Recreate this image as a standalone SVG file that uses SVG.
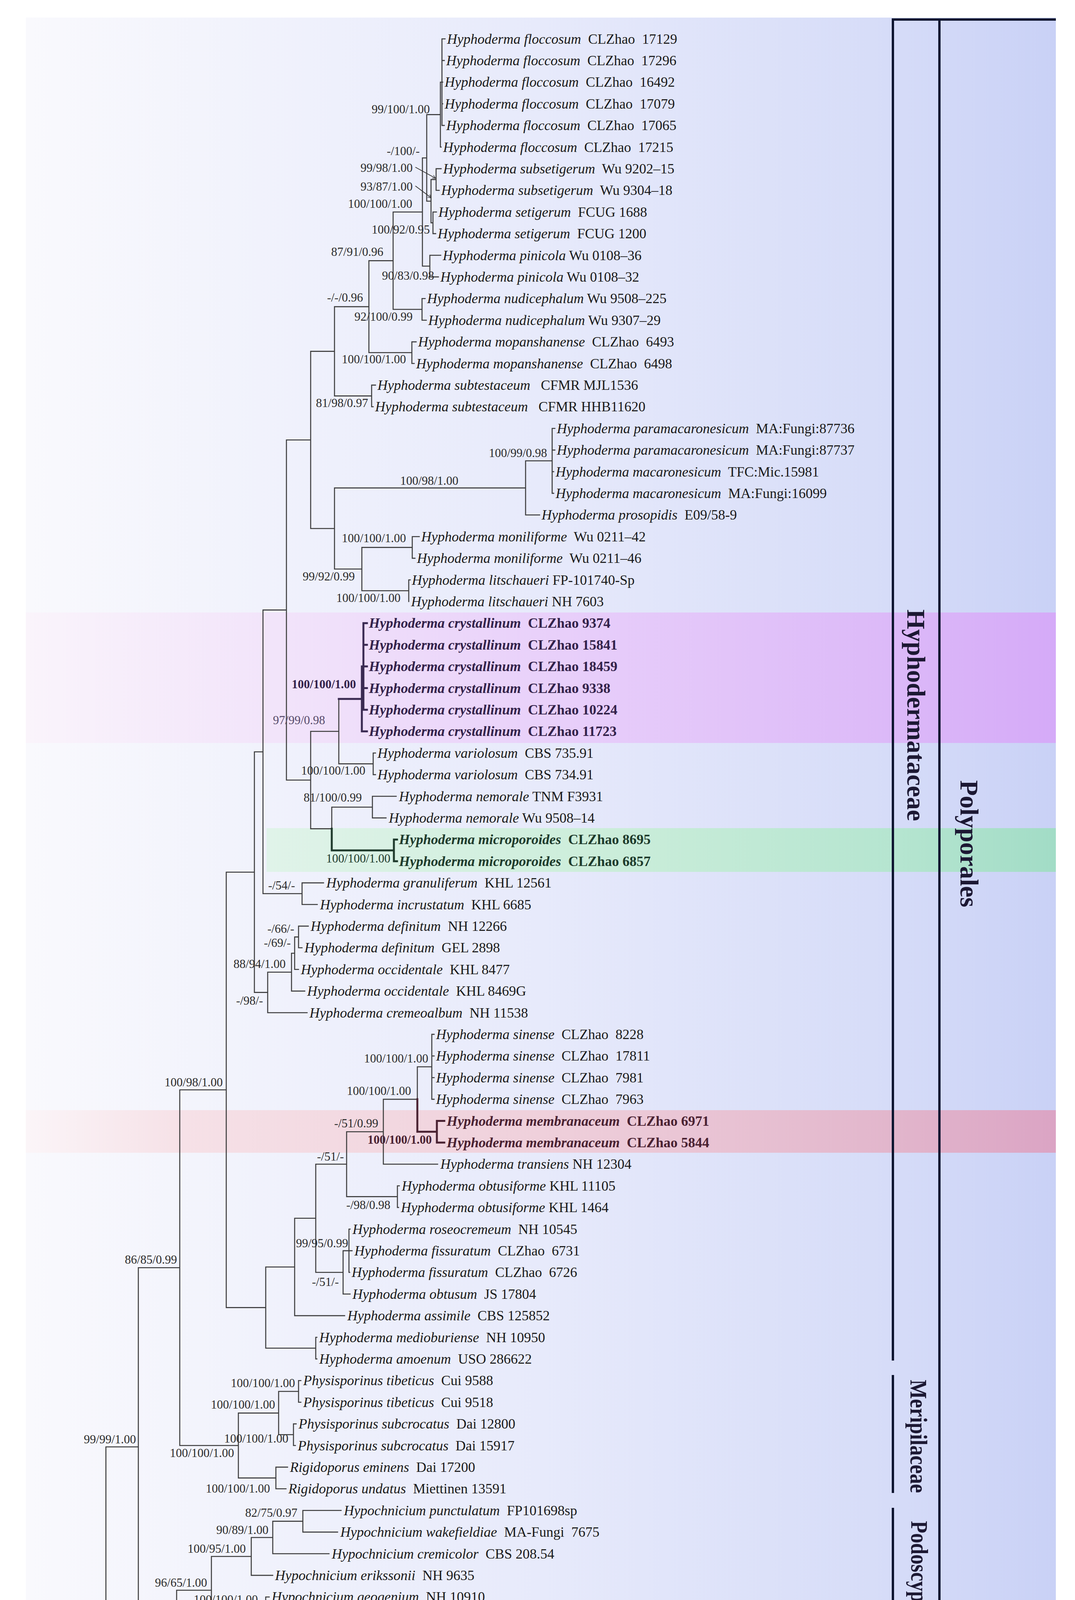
<svg xmlns="http://www.w3.org/2000/svg" width="2751" height="4557" viewBox="0 0 2751 4557">
<defs>
<linearGradient id="bg" gradientUnits="userSpaceOnUse" x1="66" y1="0" x2="2702" y2="0">
<stop offset="0" stop-color="#f9f9fd"/><stop offset="0.5" stop-color="#e7eafb"/><stop offset="0.84" stop-color="#d6dcf8"/><stop offset="1" stop-color="#c9d1f6"/>
</linearGradient>
<linearGradient id="gp" gradientUnits="userSpaceOnUse" x1="66" y1="0" x2="2702" y2="0">
<stop offset="0" stop-color="#faf4fb"/><stop offset="0.3" stop-color="#f0e0fa"/><stop offset="0.55" stop-color="#e7cdfa"/><stop offset="0.84" stop-color="#dcb9f8"/><stop offset="1" stop-color="#d5aaf8"/>
</linearGradient>
<linearGradient id="gg" gradientUnits="userSpaceOnUse" x1="682" y1="0" x2="2702" y2="0">
<stop offset="0" stop-color="#e0f3e9"/><stop offset="0.4" stop-color="#cdeedb"/><stop offset="0.8" stop-color="#b5e5d0"/><stop offset="1" stop-color="#a2dcc6"/>
</linearGradient>
<linearGradient id="gm" gradientUnits="userSpaceOnUse" x1="66" y1="0" x2="2702" y2="0">
<stop offset="0" stop-color="#fbf5f8"/><stop offset="0.15" stop-color="#f6e1e7"/><stop offset="0.5" stop-color="#efd0db"/><stop offset="0.84" stop-color="#e2b6cc"/><stop offset="1" stop-color="#dba4c4"/>
</linearGradient>
<marker id="arr" viewBox="0 0 10 10" refX="9" refY="5" markerWidth="9" markerHeight="9" markerUnits="userSpaceOnUse" orient="auto">
<path d="M0 0L10 5L0 10" fill="none" stroke="#333" stroke-width="1.5"/>
</marker>
<style>
.t{font-family:"Liberation Serif","Times New Roman",serif;font-size:36px;fill:#1a1a1a}
.i{font-style:italic}
.bp{font-weight:bold;fill:#33224a}
.bg{font-weight:bold;fill:#1e3b2c}
.bm{font-weight:bold;fill:#4a2232}
.s{font-family:"Liberation Serif","Times New Roman",serif;font-size:31px;fill:#2b2b2b;text-anchor:end}
.clade{font-family:"Liberation Serif","Times New Roman",serif;font-weight:bold;font-size:65px;fill:#1c1833;text-anchor:middle}
.ln{fill:none;stroke:#3c3c3c;stroke-width:2.6;stroke-linecap:square}
.bar{fill:none;stroke:#0e1530;stroke-width:6}
</style>
</defs>
<rect width="2751" height="4557" fill="#ffffff"/>
<rect x="66" y="45" width="2636" height="4462" fill="url(#bg)"/>
<g id="bands">
<rect x="66" y="1568" width="2636" height="334" fill="url(#gp)"/>
<rect x="682" y="2120" width="2020" height="112" fill="url(#gg)"/>
<rect x="66" y="2842" width="2636" height="109" fill="url(#gm)"/>
</g>
<g id="connectors">
<path class="ln" d="M1131 99.5V321.1 M1131 99.5H1139 M1131 154.9H1137 M1131 210.3H1133 M1131 265.7H1133 M1131 321.1H1137 M1127 210.3H1131 M1127 210.3V376.5 M1127 376.5H1129 M1092 293.4H1127
M1116 431.9V487.3 M1116 431.9H1129 M1116 487.3H1124 M1103 459.6H1116
M1108 542.7V598.1 M1108 542.7H1117 M1108 598.1H1115 M1103 570.4H1108
M1103 459.6V570.4 M1092 515H1103 M1092 293.4V515 M1081 404.2H1092
M1100 653.5V708.9 M1100 653.5H1128 M1100 708.9H1122 M1081 681.2H1100
M1081 404.2V681.2 M1006 542.7H1081
M1080 764.3V819.7 M1080 764.3H1088 M1080 819.7H1091 M1006 792H1080
M1006 542.7V792 M944 667.4H1006
M1054 875.1V930.5 M1054 875.1H1065 M1054 930.5H1060 M944 902.8H1054
M944 667.4V902.8 M856 785.1H944
M951 985.9V1041.3 M951 985.9H961 M951 1041.3H955 M856 1013.6H951
M856 785.1V1013.6 M795 899.4H856
M1413 1096.7V1262.9 M1413 1096.7H1420 M1413 1152.1H1420 M1413 1207.5H1417 M1413 1262.9H1417 M1345 1179.8H1413
M1345 1318.3H1381 M1345 1179.8V1318.3 M856 1249.1H1345
M1055 1373.7V1429.1 M1055 1373.7H1073 M1055 1429.1H1062 M926 1401.4H1055
M1046 1484.5V1539.9 M1046 1484.5H1050 M926 1512.2H1046
M926 1401.4V1512.2 M856 1456.8H926
M856 1249.1V1456.8 M795 1353H856
M795 899.4V1353 M733 1126.2H795
M955 1927.7V1983.1 M955 1927.7H961 M955 1983.1H961 M867 1955.4H955
M867 1789.2V1955.4 M795 1872.3H867
M953 2038.5V2093.9 M953 2038.5H1014 M953 2093.9H988 M849 2066.2H953
M849 2066.2V2121.6 M795 2121.6H849
M795 1872.3V2121.6 M733 1997H795
M733 1126.2V1997 M673 1561.6H733
M773 2260.1V2315.5 M773 2260.1H828 M773 2315.5H812 M673 2287.8H773
M673 1561.6V2287.8 M651 1924.7H673
M764 2370.9V2426.3 M764 2370.9H789 M764 2426.3H773 M754 2398.6H764
M754 2398.6V2481.7 M754 2481.7H764 M746 2440.2H754
M746 2440.2V2537.1 M746 2537.1H780 M685 2488.7H746
M685 2488.7V2592.5 M685 2592.5H786 M651 2540.6H685
M651 1924.7V2540.6 M579 2232.7H651
M1105 2647.9V2814.1 M1105 2647.9H1111 M1105 2703.3H1111 M1105 2758.7H1111 M1105 2814.1H1111 M1068 2731H1105
M1068 2731V2814.1 M981 2814.1H1068
M981 2980.3H1120 M981 2814.1V2980.3 M887 2897.2H981
M1017 3035.7V3091.1 M1017 3035.7H1022 M1017 3091.1H1020 M887 3063.4H1017
M887 2897.2V3063.4 M808 2980.3H887
M893 3146.5V3257.3 M893 3146.5H896 M893 3201.9H901 M893 3257.3H895 M878 3201.9H893
M878 3312.7H896 M878 3201.9V3312.7 M808 3257.3H878
M808 2980.3V3257.3 M754 3118.8H808
M754 3368.1H882 M754 3118.8V3368.1 M680 3243.5H754
M808 3423.5V3478.9 M808 3423.5H811 M808 3478.9H811 M680 3451.2H808
M680 3243.5V3451.2 M579 3347.4H680
M579 2232.7V3347.4 M460 2790H579
M764 3534.3V3589.7 M764 3534.3H770 M764 3589.7H770 M713 3562H764
M751 3645.1V3700.5 M751 3645.1H758 M751 3700.5H756 M713 3672.8H751
M713 3562V3672.8 M610 3617.4H713
M706 3755.9V3811.3 M706 3755.9H736 M706 3811.3H732 M610 3783.6H706
M610 3617.4V3783.6 M460 3700.5H610
M460 2790V3700.5 M354 3245.3H460
M775 3866.7V3922.1 M775 3866.7H873 M775 3922.1H864 M698 3894.4H775
M698 3894.4V3977.5 M698 3977.5H842 M643 3936H698
M643 3936V4032.9 M643 4032.9H698 M541 3984.5H643
M680 4088.3V4143.7 M680 4088.3H689 M680 4143.7H688 M599 4116H680
M599 4116V4199.1 M599 4199.1H724 M541 4157.5H599
M541 3984.5V4157.5 M452 4071H541
M452 4071V4254.5 M452 4254.5H561 M354 4162.8H452
M354 3245.3V4162.8 M271 3704H354
M349 4309.9V4365.3 M349 4309.9H480 M349 4365.3H482 M271 4337.6H349
M271 3704V4337.6"/>
<path class="ln" style="stroke:#3a2a52;stroke-width:5" d="M930 1595.3V1816.9 M930 1595.3H939 M930 1650.7H939 M930 1706.1H939 M930 1761.5H939 M930 1816.9H939 M926 1706.1H930 M926 1706.1V1872.3 M926 1872.3H939 M867 1789.2H926"/>
<path class="ln" style="stroke:#1f3a2c;stroke-width:5" d="M1008 2149.3V2204.7 M1008 2149.3H1016 M1008 2204.7H1016 M849 2177H1008 M849 2121.6V2177"/>
<path class="ln" style="stroke:#4a2232;stroke-width:5" d="M1118 2869.5V2924.9 M1118 2869.5H1137 M1118 2924.9H1137 M1068 2897.2H1118 M1068 2814.1V2897.2"/>
<path fill="none" stroke="#333" stroke-width="1.8" marker-end="url(#arr)" d="M1063 428L1114 456"/>
<path fill="none" stroke="#333" stroke-width="1.8" marker-end="url(#arr)" d="M1063 476L1103 506"/>
<path fill="none" stroke="#333" stroke-width="2.6" d="M359 4436H462 M359 4429V4443 M462 4429V4443"/>
</g>
<g id="support">
<text class="s" x="1100" y="290">99/100/1.00</text>
<text class="s" x="1074" y="397">-/100/-</text>
<text class="s" x="1056" y="440">99/98/1.00</text>
<text class="s" x="1056" y="488">93/87/1.00</text>
<text class="s" x="1055" y="532">100/100/1.00</text>
<text class="s" x="1100" y="598">100/92/0.95</text>
<text class="s" x="981" y="655">87/91/0.96</text>
<text class="s" x="1111" y="716">90/83/0.98</text>
<text class="s" x="929" y="772">-/-/0.96</text>
<text class="s" x="1056" y="821">92/100/0.99</text>
<text class="s" x="1039" y="930">100/100/1.00</text>
<text class="s" x="942" y="1042">81/98/0.97</text>
<text class="s" x="1400" y="1170">100/99/0.98</text>
<text class="s" x="1173" y="1241">100/98/1.00</text>
<text class="s" x="1039" y="1388">100/100/1.00</text>
<text class="s" x="908" y="1486">99/92/0.99</text>
<text class="s" x="1025" y="1541">100/100/1.00</text>
<text class="s" x="911" y="1762" style="font-weight:bold;fill:#33224a">100/100/1.00</text>
<text class="s" x="832" y="1854" style="fill:#564a6a">97/99/0.98</text>
<text class="s" x="935" y="1983">100/100/1.00</text>
<text class="s" x="926" y="2052">81/100/0.99</text>
<text class="s" x="999" y="2208" style="fill:#1e3b2c">100/100/1.00</text>
<text class="s" x="755" y="2277">-/54/-</text>
<text class="s" x="753" y="2388">-/66/-</text>
<text class="s" x="744" y="2424">-/69/-</text>
<text class="s" x="731" y="2478">88/94/1.00</text>
<text class="s" x="673" y="2572">-/98/-</text>
<text class="s" x="1096" y="2720">100/100/1.00</text>
<text class="s" x="570" y="2781">100/98/1.00</text>
<text class="s" x="1052" y="2803">100/100/1.00</text>
<text class="s" x="968" y="2886">-/51/0.99</text>
<text class="s" x="1105" y="2928" style="font-weight:bold;fill:#4a2232">100/100/1.00</text>
<text class="s" x="880" y="2971">-/51/-</text>
<text class="s" x="999" y="3095">-/98/0.98</text>
<text class="s" x="891" y="3193">99/95/0.99</text>
<text class="s" x="453" y="3235">86/85/0.99</text>
<text class="s" x="867" y="3292">-/51/-</text>
<text class="s" x="755" y="3551">100/100/1.00</text>
<text class="s" x="704" y="3606">100/100/1.00</text>
<text class="s" x="738" y="3693">100/100/1.00</text>
<text class="s" x="348" y="3695">99/99/1.00</text>
<text class="s" x="599" y="3730">100/100/1.00</text>
<text class="s" x="691" y="3821">100/100/1.00</text>
<text class="s" x="761" y="3883">82/75/0.97</text>
<text class="s" x="687" y="3927">90/89/1.00</text>
<text class="s" x="629" y="3975">100/95/1.00</text>
<text class="s" x="530" y="4062">96/65/1.00</text>
<text class="s" x="660" y="4105">100/100/1.00</text>
<text class="s" x="596" y="4190">77/77/0.95</text>
<text class="s" x="445" y="4197">97/84/1.00</text>
<text x="415" y="4476" style="font-family:'Liberation Serif','Times New Roman',serif;font-size:32px;fill:#2b2b2b;text-anchor:middle">50</text>
</g>
<g id="taxa">
<g id="t01"><text class="t" x="1144" y="112"><tspan class="i">Hyphoderma floccosum</tspan>&#160; CLZhao&#160; 17129</text></g>
<g id="t02"><text class="t" x="1142" y="167"><tspan class="i">Hyphoderma floccosum</tspan>&#160; CLZhao&#160; 17296</text></g>
<g id="t03"><text class="t" x="1138" y="222"><tspan class="i">Hyphoderma floccosum</tspan>&#160; CLZhao&#160; 16492</text></g>
<g id="t04"><text class="t" x="1138" y="278"><tspan class="i">Hyphoderma floccosum</tspan>&#160; CLZhao&#160; 17079</text></g>
<g id="t05"><text class="t" x="1142" y="333"><tspan class="i">Hyphoderma floccosum</tspan>&#160; CLZhao&#160; 17065</text></g>
<g id="t06"><text class="t" x="1134" y="389"><tspan class="i">Hyphoderma floccosum</tspan>&#160; CLZhao&#160; 17215</text></g>
<g id="t07"><text class="t" x="1134" y="444"><tspan class="i">Hyphoderma subsetigerum</tspan>&#160; Wu 9202–15</text></g>
<g id="t08"><text class="t" x="1129" y="499"><tspan class="i">Hyphoderma subsetigerum</tspan>&#160; Wu 9304–18</text></g>
<g id="t09"><text class="t" x="1122" y="555"><tspan class="i">Hyphoderma setigerum</tspan>&#160; FCUG 1688</text></g>
<g id="t10"><text class="t" x="1120" y="610"><tspan class="i">Hyphoderma setigerum</tspan>&#160; FCUG 1200</text></g>
<g id="t11"><text class="t" x="1133" y="666"><tspan class="i">Hyphoderma pinicola</tspan> Wu 0108–36</text></g>
<g id="t12"><text class="t" x="1127" y="721"><tspan class="i">Hyphoderma pinicola</tspan> Wu 0108–32</text></g>
<g id="t13"><text class="t" x="1093" y="776"><tspan class="i">Hyphoderma nudicephalum</tspan> Wu 9508–225</text></g>
<g id="t14"><text class="t" x="1096" y="832"><tspan class="i">Hyphoderma nudicephalum</tspan> Wu 9307–29</text></g>
<g id="t15"><text class="t" x="1070" y="887"><tspan class="i">Hyphoderma mopanshanense</tspan>&#160; CLZhao&#160; 6493</text></g>
<g id="t16"><text class="t" x="1065" y="943"><tspan class="i">Hyphoderma mopanshanense</tspan>&#160; CLZhao&#160; 6498</text></g>
<g id="t17"><text class="t" x="966" y="998"><tspan class="i">Hyphoderma subtestaceum</tspan>&#160;&#160; CFMR MJL1536</text></g>
<g id="t18"><text class="t" x="960" y="1053"><tspan class="i">Hyphoderma subtestaceum</tspan>&#160;&#160; CFMR HHB11620</text></g>
<g id="t19"><text class="t" x="1425" y="1109"><tspan class="i">Hyphoderma paramacaronesicum</tspan>&#160; MA:Fungi:87736</text></g>
<g id="t20"><text class="t" x="1425" y="1164"><tspan class="i">Hyphoderma paramacaronesicum</tspan>&#160; MA:Fungi:87737</text></g>
<g id="t21"><text class="t" x="1422" y="1220"><tspan class="i">Hyphoderma macaronesicum</tspan>&#160; TFC:Mic.15981</text></g>
<g id="t22"><text class="t" x="1422" y="1275"><tspan class="i">Hyphoderma macaronesicum</tspan>&#160; MA:Fungi:16099</text></g>
<g id="t23"><text class="t" x="1386" y="1330"><tspan class="i">Hyphoderma prosopidis</tspan>&#160; E09/58-9</text></g>
<g id="t24"><text class="t" x="1078" y="1386"><tspan class="i">Hyphoderma moniliforme</tspan>&#160; Wu 0211–42</text></g>
<g id="t25"><text class="t" x="1067" y="1441"><tspan class="i">Hyphoderma moniliforme</tspan>&#160; Wu 0211–46</text></g>
<g id="t26"><text class="t" x="1054" y="1497"><tspan class="i">Hyphoderma litschaueri</tspan> FP-101740-Sp</text></g>
<g id="t27"><text class="t" x="1052" y="1552"><tspan class="i">Hyphoderma litschaueri</tspan> NH 7603</text></g>
<g id="t28"><text class="t bp" x="944" y="1607"><tspan class="i">Hyphoderma crystallinum</tspan>&#160; CLZhao 9374</text></g>
<g id="t29"><text class="t bp" x="944" y="1663"><tspan class="i">Hyphoderma crystallinum</tspan>&#160; CLZhao 15841</text></g>
<g id="t30"><text class="t bp" x="944" y="1718"><tspan class="i">Hyphoderma crystallinum</tspan>&#160; CLZhao 18459</text></g>
<g id="t31"><text class="t bp" x="944" y="1774"><tspan class="i">Hyphoderma crystallinum</tspan>&#160; CLZhao 9338</text></g>
<g id="t32"><text class="t bp" x="944" y="1829"><tspan class="i">Hyphoderma crystallinum</tspan>&#160; CLZhao 10224</text></g>
<g id="t33"><text class="t bp" x="944" y="1884"><tspan class="i">Hyphoderma crystallinum</tspan>&#160; CLZhao 11723</text></g>
<g id="t34"><text class="t" x="966" y="1940"><tspan class="i">Hyphoderma variolosum</tspan>&#160; CBS 735.91</text></g>
<g id="t35"><text class="t" x="966" y="1995"><tspan class="i">Hyphoderma variolosum</tspan>&#160; CBS 734.91</text></g>
<g id="t36"><text class="t" x="1021" y="2051"><tspan class="i">Hyphoderma nemorale</tspan> TNM F3931</text></g>
<g id="t37"><text class="t" x="995" y="2106"><tspan class="i">Hyphoderma nemorale</tspan> Wu 9508–14</text></g>
<g id="t38"><text class="t bg" x="1021" y="2161"><tspan class="i">Hyphoderma microporoides</tspan>&#160; CLZhao 8695</text></g>
<g id="t39"><text class="t bg" x="1021" y="2217"><tspan class="i">Hyphoderma microporoides</tspan>&#160; CLZhao 6857</text></g>
<g id="t40"><text class="t" x="835" y="2272"><tspan class="i">Hyphoderma granuliferum</tspan>&#160; KHL 12561</text></g>
<g id="t41"><text class="t" x="819" y="2328"><tspan class="i">Hyphoderma incrustatum</tspan>&#160; KHL 6685</text></g>
<g id="t42"><text class="t" x="795" y="2383"><tspan class="i">Hyphoderma definitum</tspan>&#160; NH 12266</text></g>
<g id="t43"><text class="t" x="779" y="2438"><tspan class="i">Hyphoderma definitum</tspan>&#160; GEL 2898</text></g>
<g id="t44"><text class="t" x="770" y="2494"><tspan class="i">Hyphoderma occidentale</tspan>&#160; KHL 8477</text></g>
<g id="t45"><text class="t" x="786" y="2549"><tspan class="i">Hyphoderma occidentale</tspan>&#160; KHL 8469G</text></g>
<g id="t46"><text class="t" x="792" y="2605"><tspan class="i">Hyphoderma cremeoalbum</tspan>&#160; NH 11538</text></g>
<g id="t47"><text class="t" x="1116" y="2660"><tspan class="i">Hyphoderma sinense</tspan>&#160; CLZhao&#160; 8228</text></g>
<g id="t48"><text class="t" x="1116" y="2715"><tspan class="i">Hyphoderma sinense</tspan>&#160; CLZhao&#160; 17811</text></g>
<g id="t49"><text class="t" x="1116" y="2771"><tspan class="i">Hyphoderma sinense</tspan>&#160; CLZhao&#160; 7981</text></g>
<g id="t50"><text class="t" x="1116" y="2826"><tspan class="i">Hyphoderma sinense</tspan>&#160; CLZhao&#160; 7963</text></g>
<g id="t51"><text class="t bm" x="1143" y="2882"><tspan class="i">Hyphoderma membranaceum</tspan>&#160; CLZhao 6971</text></g>
<g id="t52"><text class="t bm" x="1143" y="2937"><tspan class="i">Hyphoderma membranaceum</tspan>&#160; CLZhao 5844</text></g>
<g id="t53"><text class="t" x="1127" y="2992"><tspan class="i">Hyphoderma transiens</tspan> NH 12304</text></g>
<g id="t54"><text class="t" x="1028" y="3048"><tspan class="i">Hyphoderma obtusiforme</tspan> KHL 11105</text></g>
<g id="t55"><text class="t" x="1026" y="3103"><tspan class="i">Hyphoderma obtusiforme</tspan> KHL 1464</text></g>
<g id="t56"><text class="t" x="902" y="3159"><tspan class="i">Hyphoderma roseocremeum</tspan>&#160; NH 10545</text></g>
<g id="t57"><text class="t" x="907" y="3214"><tspan class="i">Hyphoderma fissuratum</tspan>&#160; CLZhao&#160; 6731</text></g>
<g id="t58"><text class="t" x="900" y="3269"><tspan class="i">Hyphoderma fissuratum</tspan>&#160; CLZhao&#160; 6726</text></g>
<g id="t59"><text class="t" x="902" y="3325"><tspan class="i">Hyphoderma obtusum</tspan>&#160; JS 17804</text></g>
<g id="t60"><text class="t" x="889" y="3380"><tspan class="i">Hyphoderma assimile</tspan>&#160; CBS 125852</text></g>
<g id="t61"><text class="t" x="817" y="3436"><tspan class="i">Hyphoderma medioburiense</tspan>&#160; NH 10950</text></g>
<g id="t62"><text class="t" x="817" y="3491"><tspan class="i">Hyphoderma amoenum</tspan>&#160; USO 286622</text></g>
<g id="t63"><text class="t" x="776" y="3546"><tspan class="i">Physisporinus tibeticus</tspan>&#160; Cui 9588</text></g>
<g id="t64"><text class="t" x="776" y="3602"><tspan class="i">Physisporinus tibeticus</tspan>&#160; Cui 9518</text></g>
<g id="t65"><text class="t" x="764" y="3657"><tspan class="i">Physisporinus subcrocatus</tspan>&#160; Dai 12800</text></g>
<g id="t66"><text class="t" x="762" y="3713"><tspan class="i">Physisporinus subcrocatus</tspan>&#160; Dai 15917</text></g>
<g id="t67"><text class="t" x="742" y="3768"><tspan class="i">Rigidoporus eminens</tspan>&#160; Dai 17200</text></g>
<g id="t68"><text class="t" x="738" y="3823"><tspan class="i">Rigidoporus undatus</tspan>&#160; Miettinen 13591</text></g>
<g id="t69"><text class="t" x="880" y="3879"><tspan class="i">Hypochnicium punctulatum</tspan>&#160; FP101698sp</text></g>
<g id="t70"><text class="t" x="871" y="3934"><tspan class="i">Hypochnicium wakefieldiae</tspan>&#160; MA-Fungi&#160; 7675</text></g>
<g id="t71"><text class="t" x="849" y="3990"><tspan class="i">Hypochnicium cremicolor</tspan>&#160; CBS 208.54</text></g>
<g id="t72"><text class="t" x="704" y="4045"><tspan class="i">Hypochnicium erikssonii</tspan>&#160; NH 9635</text></g>
<g id="t73"><text class="t" x="695" y="4100"><tspan class="i">Hypochnicium geogenium</tspan>&#160; NH 10910</text></g>
<g id="t74"><text class="t" x="694" y="4156"><tspan class="i">Hypochnicium geogenium</tspan>&#160; MA-Fungi&#160; 48308</text></g>
<g id="t75"><text class="t" x="731" y="4211"><tspan class="i">Hypochnicium sphaerosporum</tspan>&#160; RLG15138sp</text></g>
<g id="t76"><text class="t" x="568" y="4267"><tspan class="i">Hypochnicium michelii</tspan>&#160; MA Fungi 79155</text></g>
<g id="t77"><text class="t" x="487" y="4322"><tspan class="i">Diplomitoporus crustulinus</tspan>&#160; FD-137</text></g>
<g id="t78"><text class="t" x="489" y="4377"><tspan class="i">Climacocystis&#160; borealis</tspan>&#160; FD-31</text></g>
</g>
<g id="clades">
<path class="bar" d="M2282 50H2702 M2285 50V3483 M2404 53V4401 M2285 3520V3822 M2285 3860V4280 M2558 4506H2702"/>
<text class="clade" transform="translate(2322 1831) rotate(90)">Hyphodermataceae</text>
<text class="clade" transform="translate(2458 2160) rotate(90)">Polyporales</text>
<text class="clade" style="font-size:62px" transform="translate(2330 3677) rotate(90)" textLength="290" lengthAdjust="spacingAndGlyphs">Meripilaceae</text>
<text class="clade" style="font-size:62px" transform="translate(2332 4072) rotate(90)" textLength="357" lengthAdjust="spacingAndGlyphs">Podoscyphaceae</text>
<text x="2156" y="4355" style="font-family:'Liberation Serif','Times New Roman',serif;font-weight:bold;font-size:51px;fill:#111">Outgroup</text>
</g>
</svg>
